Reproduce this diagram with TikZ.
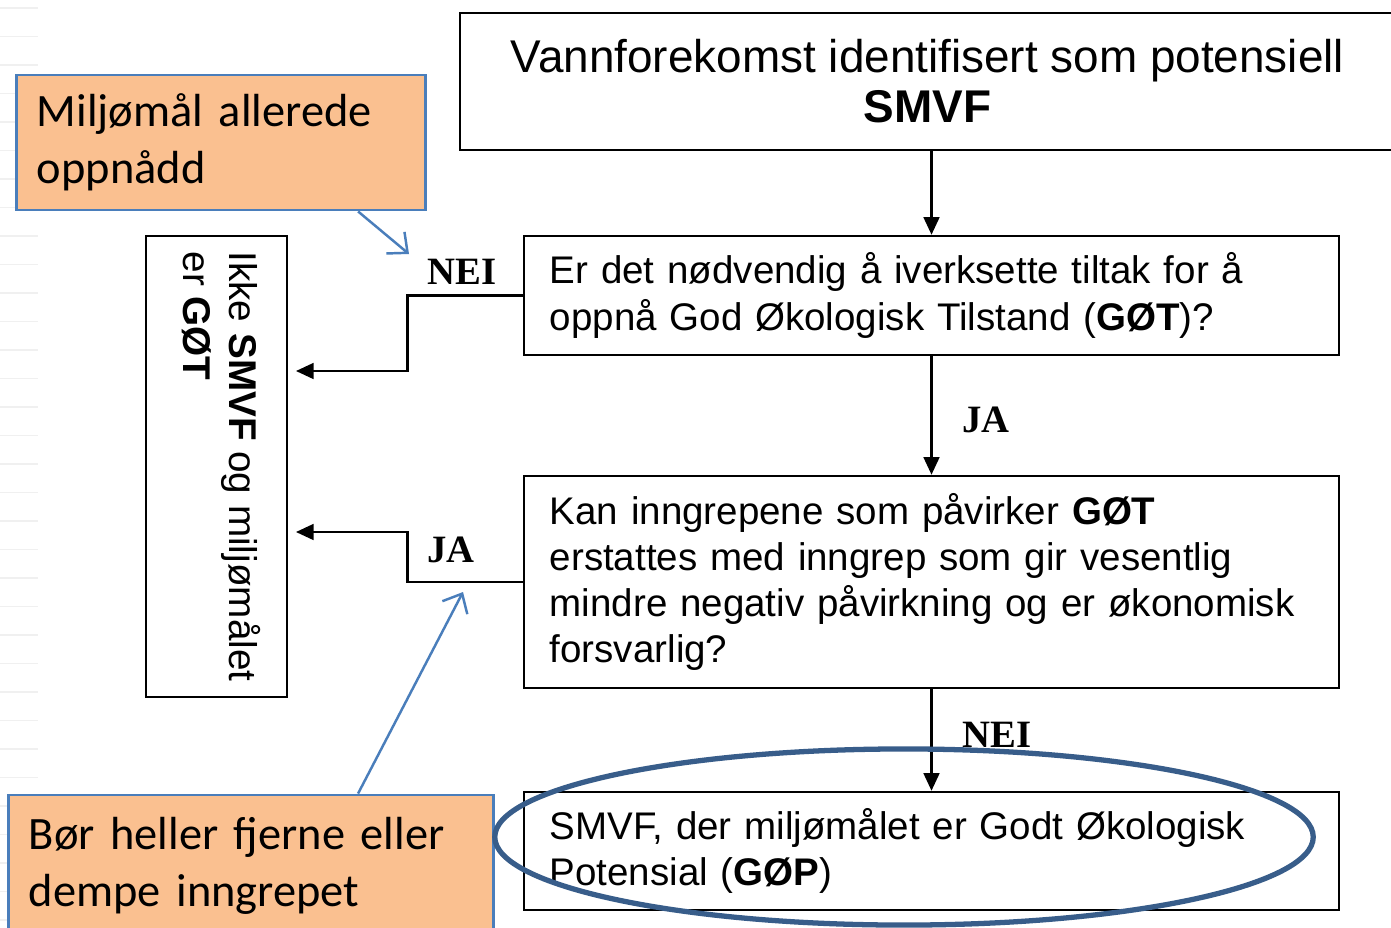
\documentclass[tikz,border=0pt]{standalone}
\usepackage{fontspec}
\newfontfamily\arialf{Liberation Sans}
\newfontfamily\serf{Liberation Serif}
\newfontfamily\calf{Carlito}
\usetikzlibrary{arrows.meta,calc}
\definecolor{callfill}{RGB}{250,192,144}
\definecolor{callblue}{RGB}{74,126,187}
\definecolor{ellblue}{RGB}{56,93,138}
\tikzset{
  flowbox/.style={draw, line width=0.7pt, rectangle, inner xsep=0.26cm, inner ysep=0pt,
    font=\arialf\fontsize{10.95}{13.1}\selectfont, align=left, text width=7.63cm},
  topbox/.style={draw, line width=0.7pt, rectangle, inner sep=0pt,
    font=\arialf\fontsize{13.05}{14.2}\selectfont, align=center},
  sidebox/.style={draw, line width=0.7pt, rectangle, rotate=-90, inner sep=0pt,
    font=\arialf\fontsize{11}{13.1}\selectfont, align=left},
  lab/.style={font=\serf\bfseries\fontsize{11}{13}\selectfont, inner sep=0pt},
  arr/.style={line width=0.6pt, -{Triangle[length=5pt,width=4.5pt]}},
  callout/.style={draw=callblue, fill=callfill, line width=0.8pt, inner xsep=0.2cm, inner ysep=0pt,
    font=\calf\fontsize{13.2}{16.2}\selectfont, align=left},
  callarrow/.style={draw=callblue, line width=0.7pt, -{Straight Barb[length=4.5pt,width=8pt]}},
  ringstyle/.style={draw=ellblue, line width=1.5pt}
}
\begin{document}
\begin{tikzpicture}[x=0.01cm, y=-0.01cm]
\useasboundingbox (0,0) rectangle (1391,927);
\fill[white] (0,0) rectangle (1391,927);
% faint notebook lines at the left edge
\foreach \k in {0,...,32} {
  \draw[black!6, line width=0.4pt] (0,{8+28.5*\k}) -- (38,{8+28.5*\k});
}
% flowchart
\node[topbox, minimum width=9.35cm, minimum height=1.37cm] (top) at (927.5,81.5)
  {Vannforekomst identifisert som potensiell\\\textbf{SMVF}};
\node[flowbox, minimum height=1.19cm] (q1) at (931.5,295.5)
  {Er det nødvendig å iverksette tiltak for å\\oppnå God Økologisk Tilstand (\textbf{GØT})?};
\node[flowbox, minimum height=2.12cm] (q2) at (931.5,582)
  {Kan inngrepene som påvirker \textbf{GØT}\\erstattes med inngrep som gir vesentlig\\mindre negativ påvirkning og er økonomisk\\forsvarlig?};
\node[flowbox, minimum height=1.18cm] (res) at (931.5,851)
  {SMVF, der miljømålet er Godt Økologisk\\Potensial (\textbf{GØP})};
\node[sidebox, minimum width=4.61cm, minimum height=1.41cm] (side) at (216.5,466.5)
  {Ikke \textbf{SMVF} og miljømålet\\er \textbf{GØT}\rule[-0.12cm]{0pt}{0pt}};

\draw[arr] (q1.north |- top.south) -- (q1.north);
\draw[arr] (q1.south) -- (q2.north);
\draw[arr] (q2.south) -- (res.north);

\coordinate (neiend) at (296,371);
\coordinate (jaend) at (296,532);
\draw[arr] (q1.west) -- ++(-115,0) |- (neiend);
\draw[arr] (q2.west) -- ++(-115,0) |- (jaend);

\node[lab] (labja1) at (986,420) {JA};
\node[lab] (labnei2) at (997,735) {NEI};
\node[lab] (labnei1) at (462,272) {NEI};
\node[lab] (labja2) at (451,550) {JA};

% callouts
\node[callout, minimum width=4.08cm, minimum height=1.35cm, text width=3.68cm] (c1) at (221,142.5)
  {Miljømål allerede\\oppnådd};
\node[callout, minimum width=4.84cm, minimum height=1.42cm, text width=4.44cm] (c2) at (251,866)
  {Bør heller fjerne eller\\dempe inngrepet};
\coordinate (c1tip) at (409,254);
\coordinate (c2tip) at (463,592);
\draw[callarrow] ([xshift=1.37cm]c1.south) -- (c1tip);
\draw[callarrow] ([xshift=1.07cm]c2.north) -- (c2tip);

% ring around the result
\draw[ringstyle] (904,837) ellipse [x radius=4.09cm, y radius=0.88cm];
\end{tikzpicture}
\end{document}
